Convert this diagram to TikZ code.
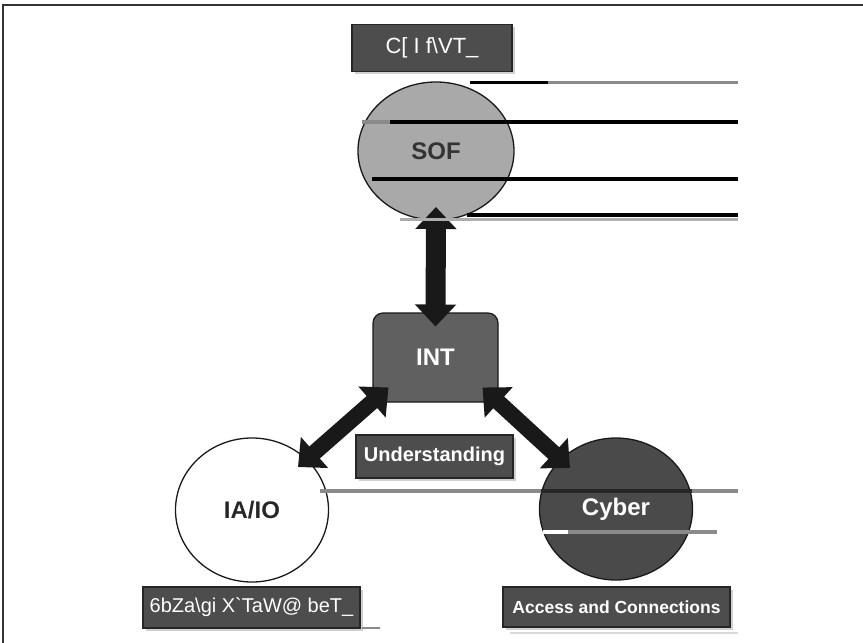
\documentclass[tikz,border=0pt]{standalone}
\usepackage{fontspec}
\setmainfont{Liberation Sans}
\usetikzlibrary{arrows.meta,shapes.geometric,shadows}
\definecolor{boxgray}{HTML}{4D4D4D}
\definecolor{sofgray}{HTML}{A9A9A9}
\definecolor{intgray}{HTML}{606060}
\definecolor{cybergray}{HTML}{4A4A4A}
\definecolor{glitchgray}{HTML}{8A8A8A}
\begin{document}
\begin{tikzpicture}[x=1pt,y=-1pt,
  labelbox/.style={draw=black!85, line width=1.2pt, fill=boxgray, text=white, inner sep=0pt,
    drop shadow={shadow xshift=2.5pt, shadow yshift=-2.5pt, opacity=0.3, fill=black!60}},
  circ/.style={ellipse, draw=black!90, line width=1.3pt, inner sep=0pt,
    font=\bfseries\fontsize{24}{26}\selectfont},
  bigarrow/.style={{Triangle[width=40pt,length=22pt]}-{Triangle[width=40pt,length=22pt]},
    draw=black!90, fill=black!90, line width=16pt},
  vertarrow/.style={bigarrow, line width=20pt},
  glitch/.style={line width=4pt},
]
\useasboundingbox (0,0) rectangle (863,643);
\fill[white] (0,0) rectangle (863,643);
% frame
\draw[black!80, line width=2pt] (3,643) -- (3,5) -- (863,5);

% nodes
\node[labelbox, minimum width=160pt, minimum height=47pt,
  font=\fontsize{22}{24}\selectfont] (mission) at (432,48) {C[ I f\textbackslash VT\_};
\node[circ, fill=sofgray, text=black!80, minimum width=156pt, minimum height=138pt] (sof) at (436,151) {SOF};
\node[draw=black!90, line width=1.2pt, fill=intgray, rounded corners=10pt, text=white,
  minimum width=125pt, minimum height=89pt, inner sep=0pt,
  font=\bfseries\fontsize{24}{26}\selectfont] (int) at (435.5,357.5) {INT};
\node[circ, fill=white, text=black!85, minimum width=153pt, minimum height=144pt] (iaio) at (252,510) {IA/IO};
\node[circ, fill=cybergray, text=white, minimum width=153pt, minimum height=142pt] (cyber) at (616,509) {Cyber};
\node[labelbox, minimum width=157pt, minimum height=43pt,
  font=\bfseries\fontsize{20}{22}\selectfont] (und) at (434.5,456.5) {Understanding};
\node[labelbox, minimum width=217pt, minimum height=41pt,
  font=\fontsize{20}{22}\selectfont] (info) at (251.5,607.5) {6bZa\textbackslash gi X\textasciigrave TaW@ beT\_};
\node[labelbox, minimum width=227pt, minimum height=40pt,
  font=\bfseries\fontsize{17.5}{20}\selectfont] (access) at (616.5,607) {Access and Connections};

% arrows
\draw[vertarrow] ([shift={(0,56)}]sof.center) -- ([shift={(0,-31)}]int.center);
\draw[bigarrow] ([shift={(-47,30)}]int.center) -- ([shift={(46,-43)}]iaio.center);
\draw[bigarrow] ([shift={(47,30)}]int.center) -- ([shift={(-46,-41)}]cyber.center);

% stray rules
\draw[glitch, line width=3pt, glitchgray] (470,82) -- (738,82);
\draw[glitch, line width=3pt, black] (470,82) -- (548,82);
\draw[glitch, glitchgray] (362,122) -- (390,122);
\draw[glitch, black] (390,122) -- (738,122);
\draw[glitch, black] (372,179) -- (738,179);
\draw[glitch, line width=3pt, glitchgray!70] (400,219) -- (738,219);
\draw[glitch, black] (467,215) -- (738,215);
\draw[glitch, glitchgray] (320,491) -- (738,491);
\draw[glitch, black!85] (541,491) -- (692,491);
\draw[glitch, white] (543,532) -- (568,532);
\draw[glitch, glitchgray] (568,532) -- (717,532);
\draw[line width=2pt, glitchgray] (362,628) -- (380,628);
\draw[line width=1.5pt, black!15] (510,633) -- (738,633);
\end{tikzpicture}
\end{document}
